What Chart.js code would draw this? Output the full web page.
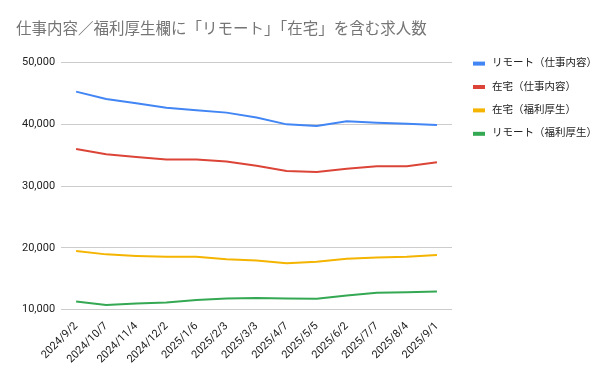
<!DOCTYPE html>
<html>
<head>
<meta charset="utf-8">
<script src="https://cdn.jsdelivr.net/npm/chart.js@4"></script>
<style>
    html, body { margin: 0; padding: 0; background: #fff; }
    #wrap { width: 612px; height: 378px; }
</style>
</head>
<body>
<div id="wrap"><canvas id="main-chart"></canvas></div>
<script>
const dateLabels = [
    "2024/9/2", "2024/10/7", "2024/11/4", "2024/12/2", "2025/1/6", "2025/2/3",
    "2025/3/3", "2025/4/7", "2025/5/5", "2025/6/2", "2025/7/7", "2025/8/4", "2025/9/1",
];
const remoteJob = [45300, 44100, 43400, 42700, 42300, 41900, 41100, 40000, 39750, 40500, 40250, 40100, 39900];
const zaitakuJob = [36000, 35150, 34700, 34300, 34300, 34000, 33300, 32450, 32300, 32800, 33200, 33200, 33850];
const zaitakuWelfare = [19500, 18950, 18700, 18550, 18550, 18150, 17950, 17500, 17750, 18250, 18450, 18550, 18850];
const remoteWelfare = [11300, 10750, 11000, 11150, 11550, 11800, 11900, 11800, 11750, 12300, 12750, 12800, 12950];
const seriesNames = ["リモート（仕事内容）", "在宅（仕事内容）", "在宅（福利厚生）", "リモート（福利厚生）"];
const yTicks = [10000, 20000, 30000, 40000, 50000];

const fontFamily = "Roboto, 'Noto Sans CJK JP', sans-serif";

function makeLine(label, data, color) {
    return {
        label: label,
        data: data,
        borderColor: color,
        backgroundColor: color,
        borderWidth: 2,
        pointRadius: 0,
        tension: 0,
        fill: false,
    };
}

// legend on the right, top aligned with the chart area (like Sheets does it)
const sideLegend = {
    id: "sideLegend",
    afterDraw(chart) {
        const ctx = chart.ctx;
        const x = chart.chartArea.right + 21;
        let y = chart.chartArea.top + 1;
        ctx.save();
        ctx.font = "10.5px " + fontFamily;
        ctx.textBaseline = "middle";
        chart.data.datasets.forEach((ds) => {
            ctx.fillStyle = ds.borderColor;
            ctx.fillRect(x, y - 2, 12, 4);
            ctx.fillStyle = "#222";
            ctx.fillText(ds.label, x + 19, y);
            y += 23.4;
        });
        ctx.restore();
    },
};

const chartCanvas = document.getElementById("main-chart");

new Chart(chartCanvas, {
    type: "line",
    data: {
        labels: dateLabels,
        datasets: [
            makeLine(seriesNames[0], remoteJob, "#4285F4"),
            makeLine(seriesNames[1], zaitakuJob, "#DB4437"),
            makeLine(seriesNames[2], zaitakuWelfare, "#F4B400"),
            makeLine(seriesNames[3], remoteWelfare, "#34A853"),
        ],
    },
    options: {
        responsive: true,
        maintainAspectRatio: false,
        animation: false,
        layout: {
            padding: { top: 12, left: 16, right: 160, bottom: 10 },
        },
        scales: {
            x: {
                offset: true,
                grid: { display: false },
                border: { display: false },
                ticks: {
                    color: "#222",
                    font: { family: fontFamily, size: 11 },
                    minRotation: 45,
                    maxRotation: 45,
                    autoSkip: false,
                    padding: 2,
                },
            },
            y: {
                min: yTicks[0],
                max: yTicks[yTicks.length - 1],
                border: { display: false },
                grid: { color: "#cccccc", drawTicks: false },
                afterBuildTicks: (axis) => {
                    axis.ticks = yTicks.map((v) => ({ value: v }));
                },
                ticks: {
                    color: "#222",
                    padding: 6,
                    font: { family: fontFamily, size: 11 },
                    callback: (v) => v.toLocaleString("en-US"),
                },
            },
        },
        plugins: {
            title: {
                display: true,
                text: "仕事内容／福利厚生欄に「リモート」「在宅」を含む求人数",
                align: "start",
                color: "#757575",
                font: { family: fontFamily, size: 15.5, weight: "normal" },
                padding: { top: 9, bottom: 23 },
            },
            legend: { display: false },
            tooltip: { enabled: false },
        },
    },
    plugins: [sideLegend],
});
</script>
</body>
</html>
